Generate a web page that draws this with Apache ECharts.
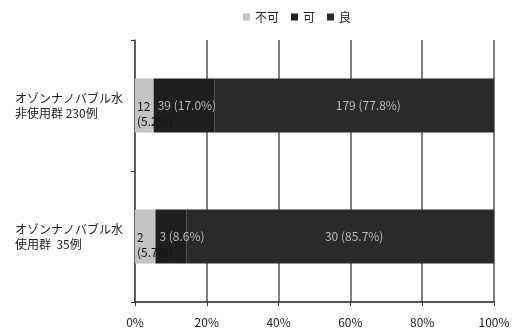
<!DOCTYPE html>
<html>
<head>
<meta charset="utf-8">
<script src="https://cdn.jsdelivr.net/npm/echarts@6/dist/echarts.min.js"></script>
<style>
  html, body { margin: 0; padding: 0; background: #fff; }
  #main { width: 525px; height: 335px; }
</style>
</head>
<body>
<div id="main"></div>
<script>
// groups, top to bottom
var categories = ['オゾンナノバブル水\n非使用群 230例', 'オゾンナノバブル水\n使用群  35例'];
var seriesNames = ['不可', '可', '良'];
// counts per group
var countNG = [12, 2];
var countOK = [39, 3];
var countGood = [179, 30];
// share of each group, %
var pctNG = [5.2, 5.7];
var pctOK = [17.0, 8.6];
var pctGood = [77.8, 85.7];
var xTicks = [0, 20, 40, 60, 80, 100];

var font = '"Noto Sans CJK JP", sans-serif';
var myChart = echarts.init(document.getElementById('main'));

function makeData(pct, cnt) {
  var out = [];
  for (var i = 0; i < pct.length; ++i) {
    out.push({ value: pct[i], count: cnt[i] });
  }
  return out;
}
function fmt(p) {
  return p.data.count + ' (' + p.data.value.toFixed(1) + '%)';
}

var option = {
  animation: false,
  legend: {
    top: 6,
    left: 238,
    itemWidth: 7,
    itemHeight: 7,
    itemGap: 12,
    icon: 'rect',
    textStyle: { fontFamily: font, fontSize: 12, color: '#222' },
    data: seriesNames
  },
  grid: { left: 135, right: 31, top: 40, bottom: 33 },
  xAxis: {
    type: 'value',
    min: xTicks[0],
    max: xTicks[xTicks.length - 1],
    interval: 20,
    axisLine: { show: true, lineStyle: { color: '#222', width: 1.5 } },
    axisTick: { show: true, length: 4, lineStyle: { color: '#333' } },
    splitLine: { show: true, lineStyle: { color: '#555', width: 1.5 } },
    axisLabel: {
      margin: 14,
      fontFamily: font,
      fontSize: 12,
      color: '#222',
      formatter: '{value}%'
    }
  },
  yAxis: {
    type: 'category',
    inverse: true,
    data: categories,
    axisLine: { show: true, lineStyle: { color: '#555', width: 1.5 } },
    axisTick: { show: true, length: 4, lineStyle: { color: '#333' } },
    axisLabel: {
      align: 'left',
      margin: 120,
      fontFamily: font,
      fontSize: 12,
      lineHeight: 15,
      color: '#222'
    }
  },
  series: [{
    name: seriesNames[0],
    type: 'bar',
    stack: 'all',
    barWidth: 54,
    data: makeData(pctNG, countNG),
    itemStyle: { color: '#c4c4c4' },
    label: {
      show: true,
      position: 'insideLeft',
      distance: 2,
      offset: [0, 8],
      overflow: 'none',
      color: '#111',
      fontFamily: font,
      fontSize: 12,
      lineHeight: 15,
      formatter: function(p) { return p.data.count + '\n(' + p.data.value.toFixed(1) + '%)'; }
    }
  }, {
    name: seriesNames[1],
    type: 'bar',
    stack: 'all',
    data: makeData(pctOK, countOK),
    itemStyle: { color: '#1e1e1e' },
    label: {
      show: true,
      position: 'insideLeft',
      distance: 4,
      overflow: 'none',
      color: '#bbb',
      fontFamily: font,
      fontSize: 12,
      formatter: fmt
    }
  }, {
    name: seriesNames[2],
    type: 'bar',
    stack: 'all',
    data: makeData(pctGood, countGood),
    itemStyle: { color: '#2a2a2a' },
    label: {
      show: true,
      position: 'inside',
      offset: [14, 0],
      overflow: 'none',
      color: '#bbb',
      fontFamily: font,
      fontSize: 12,
      formatter: fmt
    }
  }]
};
myChart.setOption(option);
</script>
</body>
</html>
